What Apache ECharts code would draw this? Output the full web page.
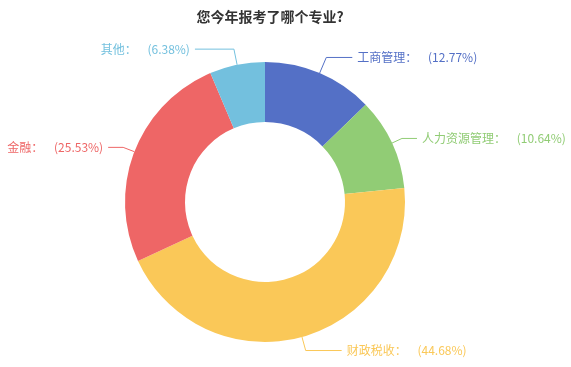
<!DOCTYPE html>
<html><head><meta charset="utf-8">
<script src="https://cdn.jsdelivr.net/npm/echarts@6/dist/echarts.min.js"></script>
<style>html,body{margin:0;padding:0;background:#fff}#c{width:571px;height:367px}</style>
</head><body><div id="c"></div>
<script>
const categories = ['工商管理', '人力资源管理', '财政税收', '金融', '其他'];
const values = [6, 5, 21, 12, 3];
const colors = ['#5470c6', '#91cc75', '#fac858', '#ee6666', '#73c0de'];
const titleText = '您今年报考了哪个专业?';

// label line styling per category (style config, not data)
const lineStyleByName = {
  '工商管理': {length: 17, length2: 26},
  '人力资源管理': {length: 11, length2: 15},
  '财政税收': {length: 14, length2: 36},
  '金融': {length: 12, length2: 15},
  '其他': {length: 16, length2: 39}
};

const chart = echarts.init(document.getElementById('c'));
chart.setOption({
  animation: false,
  color: colors,
  title: {
    text: titleText, left: 265, top: 5, textAlign: 'center',
    textStyle: {fontSize: 14, fontWeight: 'bold', color: '#333', fontFamily: 'Noto Sans CJK SC'}
  },
  series: [{
    type: 'pie',
    center: [265, 202],
    radius: [80, 140],
    startAngle: 90,
    data: categories.map((c, i) => ({
      name: c, value: values[i],
      labelLine: lineStyleByName[c]
    })),
    label: {
      formatter: '{b}：    ({d}%)',
      fontSize: 12,
      color: 'inherit',
      overflow: 'none',
      fontFamily: 'Noto Sans CJK SC'
    },
    labelLine: {length: 15, length2: 15}
  }]
});
</script></body></html>
